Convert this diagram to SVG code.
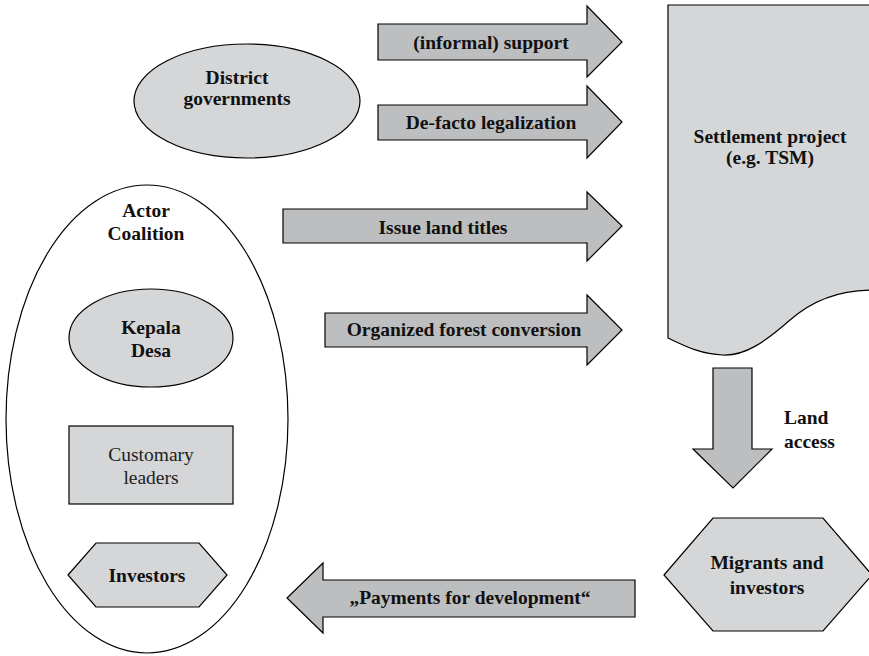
<svg xmlns="http://www.w3.org/2000/svg" width="869" height="656" viewBox="0 0 869 656">
<style>
.node{fill:#d5d6d8;stroke:#000;stroke-width:1.2}
.arrow{fill:#bdbec0;stroke:#000;stroke-width:1.2}
.t{font-family:'Liberation Serif','DejaVu Serif',serif;font-size:19.5px;font-weight:bold;fill:#111;text-anchor:middle}
.r{font-family:'Liberation Serif','DejaVu Serif',serif;font-size:19.5px;fill:#222;text-anchor:middle}
</style>
<rect width="869" height="656" fill="#fff"/>
<g id="actor-coalition">
<ellipse cx="147" cy="419" rx="141" ry="234" fill="#fff" stroke="#000" stroke-width="1.2"/>
<text class="t" x="146" y="217">Actor</text>
<text class="t" x="146" y="240">Coalition</text>
</g>
<g id="district-governments">
<ellipse class="node" cx="247" cy="101" rx="113" ry="57"/>
<text class="t" x="237" y="84">District</text>
<text class="t" x="237" y="105">governments</text>
</g>
<g id="kepala-desa">
<ellipse class="node" cx="151" cy="338" rx="82" ry="49"/>
<text class="t" x="151" y="334">Kepala</text>
<text class="t" x="151" y="357">Desa</text>
</g>
<g id="customary-leaders">
<rect class="node" x="69" y="426" width="164" height="78"/>
<text class="r" x="151" y="461">Customary</text>
<text class="r" x="151" y="484">leaders</text>
</g>
<g id="investors">
<polygon class="node" points="68,575 96,543 199,543 227,575 199,607 96,607"/>
<text class="t" x="147" y="582">Investors</text>
</g>
<g id="settlement-project">
<path class="node" d="M668,5 L872,5 L872,290 C845,290 815,298 790,320 C765,342 745,356 723,355 C700,354 685,346 668,338 Z"/>
<text class="t" x="770" y="143">Settlement project</text>
<text class="t" x="770" y="164">(e.g. TSM)</text>
</g>
<g id="migrants-and-investors">
<polygon class="node" points="664,575 713,518 823,518 872,575 823,631 713,631"/>
<text class="t" x="767" y="569">Migrants and</text>
<text class="t" x="767" y="594">investors</text>
</g>
<g id="connectors">
<g id="arrow-informal-support">
<polygon class="arrow" points="378,24 587,24 587,6 622,42 587,77 587,60 378,60"/>
<text class="t" x="491" y="49">(informal) support</text>
</g>
<g id="arrow-de-facto">
<polygon class="arrow" points="378,105 587,105 587,86 622,122 587,158 587,140 378,140"/>
<text class="t" x="491" y="129">De-facto legalization</text>
</g>
<g id="arrow-land-titles">
<polygon class="arrow" points="283,209 587,209 587,192 622,226 587,261 587,243 283,243"/>
<text class="t" x="443" y="234">Issue land titles</text>
</g>
<g id="arrow-forest-conversion">
<polygon class="arrow" points="325,313 587,313 587,295 622,330 587,365 587,347 325,347"/>
<text class="t" x="464" y="336">Organized forest conversion</text>
</g>
<g id="arrow-land-access">
<polygon class="arrow" points="713,368 752,368 752,449 772,449 733,488 693,449 713,449"/>
<text class="t" x="784" y="424" style="text-anchor:start">Land</text>
<text class="t" x="784" y="448" style="text-anchor:start">access</text>
</g>
<g id="arrow-payments">
<polygon class="arrow" points="635,580 323,580 323,563 287,598 323,633 323,617 635,617"/>
<text class="t" x="470" y="604">„Payments for development“</text>
</g>
</g>
</svg>
